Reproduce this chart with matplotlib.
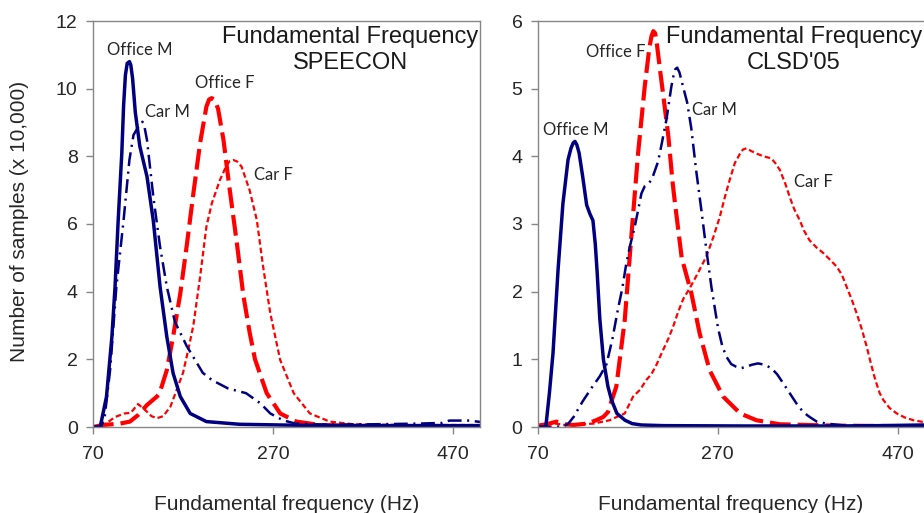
import matplotlib
matplotlib.use("Agg")
import matplotlib.pyplot as plt

plt.rcParams['font.family'] = ['Liberation Sans', 'DejaVu Sans']
plt.rcParams['lines.scale_dashes'] = False

NAVY = '#000080'
RED = '#FF0000'
TXT = '#262626'
GRID = '#868686'

# ---------------- SPEECON (left) ----------------
sp_office_m_x = [70, 78, 85, 91, 94.5, 98, 102, 104, 106, 108, 110.5, 112, 114, 117, 122, 130, 137, 144.5, 152, 159, 167, 178, 196, 233, 300, 400, 500]
sp_office_m_y = [0, 0, 0.9, 2.67, 4.15, 6.12, 8.09, 9.5, 10.4, 10.75, 10.8, 10.7, 10.3, 9.3, 8.3, 7.4, 6.1, 4.15, 2.67, 1.59, 0.9, 0.4, 0.16, 0.08, 0.05, 0.04, 0.04]

sp_car_m_x = [70, 79, 83, 89, 96, 104, 110.5, 115, 120.5, 123, 125, 127, 130, 137, 144.5, 152, 161, 174, 192, 202, 220, 240, 256, 267, 281, 295, 330, 380, 430, 458, 466, 488, 500]
sp_car_m_y = [0, 0, 0.3, 1.68, 4.15, 6.12, 7.9, 8.63, 8.88, 8.98, 9.02, 8.9, 8.48, 6.81, 5.33, 4.15, 3.11, 2.4, 1.6, 1.39, 1.14, 1.0, 0.7, 0.4, 0.2, 0.1, 0.07, 0.08, 0.1, 0.12, 0.19, 0.19, 0.15]

sp_office_f_x = [70, 81, 100, 111, 120, 130, 141, 144, 152, 159, 167, 174, 181.5, 189, 196, 199, 202, 205.5, 209, 215, 221, 230, 237, 244, 250, 263, 278, 296, 322, 360, 420, 500]
sp_office_f_y = [0, 0.06, 0.1, 0.16, 0.35, 0.65, 0.9, 1.0, 1.68, 2.67, 3.95, 5.33, 6.9, 8.39, 9.47, 9.68, 9.72, 9.65, 9.4, 8.48, 7.2, 5.4, 3.9, 2.8, 2.0, 1.0, 0.4, 0.16, 0.06, 0.03, 0.02, 0.02]

sp_car_f_x = [70, 78, 85, 95, 105, 112, 120, 128, 135, 141, 148, 156, 163, 170, 176, 181.5, 189, 196, 202, 211, 218.5, 222, 226, 230, 235, 244, 252, 259, 267, 278, 293, 311, 333, 360, 420, 500]
sp_car_f_y = [0, 0, 0.12, 0.3, 0.4, 0.42, 0.68, 0.5, 0.32, 0.26, 0.32, 0.6, 1.1, 1.6, 2.3, 3.0, 4.44, 5.92, 6.61, 7.3, 7.74, 7.86, 7.89, 7.85, 7.7, 7.0, 6.12, 4.74, 3.36, 1.98, 1.0, 0.4, 0.16, 0.08, 0.06, 0.06]

# ---------------- CLSD'05 (right) ----------------
cl_office_m_x = [70, 79, 83, 87, 92.6, 98, 103.7, 107, 109.5, 111.4, 113.5, 116, 120, 124.4, 128, 131.4, 134, 136, 139, 143, 148, 152, 158, 167, 175, 185, 210, 300, 400, 450, 500]
cl_office_m_y = [0, 0, 0.5, 1.09, 2.32, 3.3, 3.95, 4.12, 4.2, 4.22, 4.17, 4.05, 3.7, 3.28, 3.15, 3.05, 2.7, 2.3, 1.6, 1.0, 0.6, 0.4, 0.2, 0.1, 0.05, 0.03, 0.02, 0.015, 0.015, 0.02, 0.03]

cl_office_f_x = [70, 80, 91, 100, 110, 125, 135, 143, 148, 157.4, 166.7, 174, 181.5, 188.9, 194, 196.5, 198.5, 200.5, 202.5, 205.9, 210, 215.2, 220, 222.6, 230, 240.7, 250, 261, 276, 295, 313, 339, 400, 500]
cl_office_f_y = [0.02, 0.04, 0.08, 0.04, 0.03, 0.05, 0.1, 0.15, 0.22, 0.6, 1.58, 2.81, 4.04, 5.03, 5.6, 5.78, 5.85, 5.82, 5.65, 5.28, 4.85, 4.29, 3.6, 3.3, 2.5, 1.98, 1.38, 0.84, 0.45, 0.2, 0.1, 0.04, 0.02, 0.01]

cl_car_m_x = [70, 90, 100, 104, 110, 120, 130, 139, 146.5, 153, 159, 164, 168.5, 173, 177.8, 181.5, 185.2, 189, 193, 196.5, 200, 203.7, 208, 213, 218.5, 221, 223, 225, 227.5, 231.5, 236, 240.7, 246, 251.9, 257.4, 263, 270.4, 275, 279.6, 285, 290.7, 296, 301.9, 308, 314.8, 322, 329.6, 336, 342.6, 350, 357.4, 365, 372, 380, 391, 420, 500]
cl_car_m_y = [0, 0, 0.02, 0.05, 0.15, 0.38, 0.58, 0.75, 0.93, 1.3, 1.73, 2.05, 2.42, 2.7, 2.96, 3.2, 3.45, 3.56, 3.6, 3.65, 3.78, 3.92, 4.2, 4.54, 5.03, 5.2, 5.29, 5.31, 5.24, 5.03, 4.8, 4.41, 3.8, 3.2, 2.62, 2.07, 1.46, 1.2, 1.04, 0.93, 0.89, 0.87, 0.89, 0.92, 0.94, 0.92, 0.87, 0.78, 0.65, 0.5, 0.35, 0.22, 0.15, 0.08, 0.05, 0.01, 0.01]

cl_car_f_x = [70, 80, 90, 100, 115, 131.8, 150, 158, 166.7, 176, 183.7, 191, 196.3, 202, 208, 215, 220.4, 226, 232, 238.9, 247, 257.4, 265, 272.2, 278, 283.3, 289, 294.8, 298, 302.2, 307, 313.3, 321, 329.6, 334, 339, 345, 350, 355, 361, 366, 372, 380, 387.4, 395, 402.2, 408, 413.3, 419, 424.4, 430, 435.5, 440, 445, 450, 454, 461, 469, 478, 487.4, 500]
cl_car_f_y = [0.01, 0.03, 0.05, 0.03, 0.04, 0.05, 0.1, 0.15, 0.2, 0.45, 0.55, 0.7, 0.78, 0.92, 1.1, 1.3, 1.48, 1.7, 1.9, 2.05, 2.25, 2.52, 2.8, 3.1, 3.4, 3.65, 3.9, 4.04, 4.1, 4.12, 4.08, 4.04, 4.0, 3.97, 3.9, 3.8, 3.6, 3.4, 3.22, 3.06, 2.9, 2.76, 2.65, 2.57, 2.47, 2.37, 2.25, 2.07, 1.88, 1.68, 1.45, 1.19, 0.95, 0.7, 0.5, 0.4, 0.28, 0.2, 0.14, 0.1, 0.07]

x_ticks = [70, 270, 470]
left_yticks = [0, 2, 4, 6, 8, 10, 12]
right_yticks = [0, 1, 2, 3, 4, 5, 6]
series_labels = ['Office M', 'Car M', 'Office F', 'Car F']
titles = [('Fundamental Frequency', 'SPEECON'), ('Fundamental Frequency', "CLSD'05")]

W, H = 924, 513
fig = plt.figure(figsize=(W / 100, H / 100), dpi=100)

def px_axes(x0, y0, x1, y1):
    return fig.add_axes([x0 / W, (H - y1) / H, (x1 - x0) / W, (y1 - y0) / H])

axL = px_axes(93, 21, 480, 427)
axR = px_axes(537.7, 21, 924.7, 427)

def style(ax, ymax, yticks):
    ax.set_xlim(70, 500)
    ax.set_ylim(0, ymax)
    ax.set_xticks(x_ticks)
    ax.set_yticks(yticks)
    for s in ax.spines.values():
        s.set_color(GRID)
        s.set_linewidth(1.0)
    ax.tick_params(axis='both', colors=GRID, labelcolor=TXT, labelsize=14,
                   length=5, width=1.0, direction='out')
    ax.tick_params(axis='y', pad=6)
    ax.tick_params(axis='x', pad=9)

def draw(ax, om, cm, of, cf):
    ax.plot(cf[0], cf[1], color=RED, lw=1.6, dashes=(4, 2.2))
    ax.plot(of[0], of[1], color=RED, lw=3.0, dashes=(15, 5))
    ax.plot(cm[0], cm[1], color=NAVY, lw=1.8, dashes=(10, 4, 1.5, 4))
    ax.plot(om[0], om[1], color=NAVY, lw=2.5)

style(axL, 12, left_yticks)
style(axR, 6, right_yticks)
draw(axL, (sp_office_m_x, sp_office_m_y), (sp_car_m_x, sp_car_m_y),
     (sp_office_f_x, sp_office_f_y), (sp_car_f_x, sp_car_f_y))
draw(axR, (cl_office_m_x, cl_office_m_y), (cl_car_m_x, cl_car_m_y),
     (cl_office_f_x, cl_office_f_y), (cl_car_f_x, cl_car_f_y))

lab_kw = dict(family=['Lato', 'DejaVu Sans'], fontsize=12, color=TXT, ha='center', va='center')
# left labels
axL.text(122.2, 11.14, series_labels[0], **lab_kw)
axL.text(152.8, 9.31, series_labels[1], **lab_kw)
axL.text(216.1, 10.17, series_labels[2], **lab_kw)
axL.text(270.0, 7.45, series_labels[3], **lab_kw)
# right labels
axR.text(112.0, 4.39, series_labels[0], **lab_kw)
axR.text(266.4, 4.68, series_labels[1], **lab_kw)
axR.text(157.0, 5.54, series_labels[2], **lab_kw)
axR.text(375.9, 3.62, series_labels[3], **lab_kw)

tkw = dict(fontsize=17, color='#1a1a1a', ha='center', va='center', clip_on=False)
axL.text(355.6, 11.53, titles[0][0], **tkw)
axL.text(355.6, 10.76, titles[0][1], **tkw)
axR.text(354.8, 5.765, titles[1][0], **tkw)
axR.text(354.8, 5.38, titles[1][1], **tkw)

fig.text(19.5 / W, (H - 221) / H, 'Number of samples (x 10,000)', rotation=90,
         ha='center', va='center', fontsize=15, color=TXT)
fig.text(287 / W, (H - 510) / H, 'Fundamental frequency (Hz)', ha='center',
         va='baseline', fontsize=15, color=TXT)
fig.text(731 / W, (H - 510) / H, 'Fundamental frequency (Hz)', ha='center',
         va='baseline', fontsize=15, color=TXT)

fig.savefig('out.png', dpi=100)
